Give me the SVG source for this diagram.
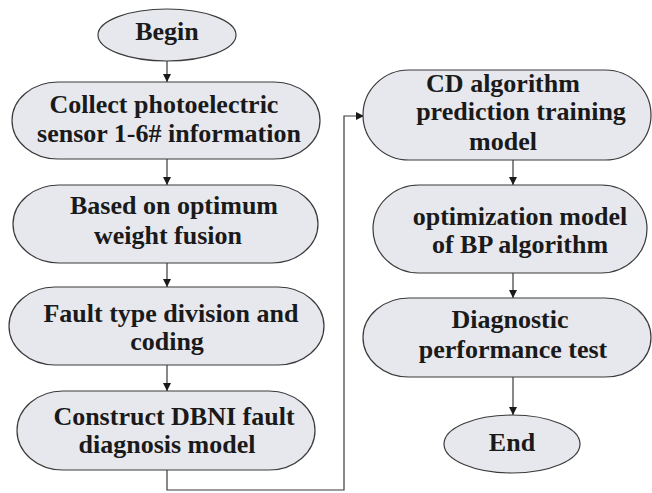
<svg xmlns="http://www.w3.org/2000/svg" width="652" height="493" viewBox="0 0 652 493">
  <style>
    .box { fill: #e7e8ee; stroke: #3a3a3a; stroke-width: 1.2; }
    .wire { fill: none; stroke: #3a3a3a; stroke-width: 1.2; }
  </style>
  <defs>
    <marker id="arr" viewBox="0 0 10 10" refX="10" refY="5" markerWidth="8" markerHeight="8" markerUnits="userSpaceOnUse" orient="auto">
      <path d="M0,0 L10,5 L0,10 z" fill="#1a1a1a"/>
    </marker>
  </defs>

  <rect width="652" height="493" fill="#ffffff"/>

  <!-- connectors -->
  <g id="connectors">
    <line class="wire" x1="167" y1="60" x2="167" y2="82" marker-end="url(#arr)"/>
    <line class="wire" x1="167" y1="159" x2="167" y2="185" marker-end="url(#arr)"/>
    <line class="wire" x1="167" y1="263" x2="167" y2="287" marker-end="url(#arr)"/>
    <line class="wire" x1="167" y1="365" x2="167" y2="391" marker-end="url(#arr)"/>
    <polyline class="wire" points="167,470 167,490 344,490 344,116 364,116" marker-end="url(#arr)"/>
    <line class="wire" x1="513" y1="160" x2="513" y2="185" marker-end="url(#arr)"/>
    <line class="wire" x1="513" y1="273" x2="513" y2="298" marker-end="url(#arr)"/>
    <line class="wire" x1="513" y1="377" x2="513" y2="415" marker-end="url(#arr)"/>
  </g>

  <!-- labels share one text style, set on this wrapper -->
  <g font-family="Liberation Serif" font-weight="bold" font-size="26" fill="#1a1a1a" text-anchor="middle">
    <g id="begin">
      <ellipse class="box" cx="167" cy="35" rx="69" ry="26"/>
      <text x="167" y="40">Begin</text>
    </g>

    <g id="collect">
      <rect class="box" x="12" y="82" width="308" height="77" rx="46" ry="38.5"/>
      <text x="164" y="113">Collect photoelectric</text>
      <text x="169" y="142">sensor 1-6# information</text>
    </g>

    <g id="fusion">
      <rect class="box" x="13" y="185" width="305" height="78" rx="46" ry="39"/>
      <text x="174" y="214">Based on optimum</text>
      <text x="168" y="244">weight fusion</text>
    </g>

    <g id="coding">
      <rect class="box" x="9" y="287" width="315" height="78" rx="46" ry="39"/>
      <text x="171" y="322">Fault type division and</text>
      <text x="167" y="350">coding</text>
    </g>

    <g id="dbni">
      <rect class="box" x="17" y="391" width="298" height="79" rx="46" ry="39.5"/>
      <text x="174" y="425">Construct DBNI fault</text>
      <text x="167" y="453">diagnosis model</text>
    </g>

    <g id="cd-training">
      <rect class="box" x="363" y="70" width="288" height="90" rx="46" ry="45"/>
      <text x="503" y="92">CD algorithm</text>
      <text x="521" y="120">prediction training</text>
      <text x="503" y="150">model</text>
    </g>

    <g id="bp-optimization">
      <rect class="box" x="373" y="185" width="274" height="88" rx="46" ry="44"/>
      <text x="520" y="225">optimization model</text>
      <text x="520" y="253">of BP algorithm</text>
    </g>

    <g id="performance">
      <rect class="box" x="363" y="298" width="288" height="79" rx="46" ry="39.5"/>
      <text x="510" y="328">Diagnostic</text>
      <text x="513" y="358">performance test</text>
    </g>

    <g id="end">
      <ellipse class="box" cx="512" cy="444" rx="68" ry="29"/>
      <text x="512" y="451">End</text>
    </g>
  </g>
</svg>
